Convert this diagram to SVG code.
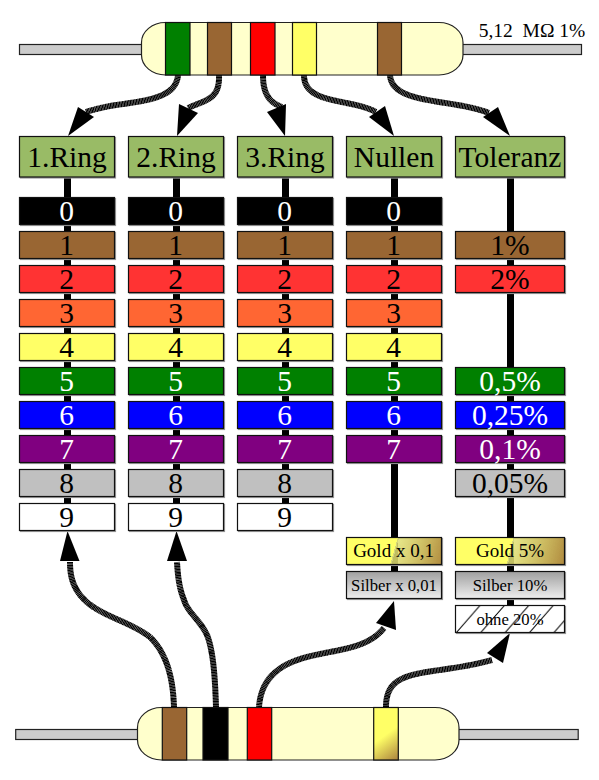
<svg xmlns="http://www.w3.org/2000/svg" width="599" height="780" viewBox="0 0 599 780">
<style>
text{font-family:"Liberation Serif",serif;text-anchor:middle;fill:#000;white-space:pre}
.h{font-size:29.5px}.n{font-size:29.5px}.s{font-size:16.700px}.g{font-size:19px}.w{fill:#fff}
.b{stroke:#111;stroke-width:1.2}
.box{stroke:#111;stroke-width:1.2;filter:drop-shadow(1.2px 1.2px 0 #999)}
.bar{fill:#000}
.wire{fill:#ccc;stroke:#222;stroke-width:1.2}
.body{fill:#ffc;stroke:#222;stroke-width:1.2}
.c{fill:none;stroke:#000;stroke-width:6;stroke-dasharray:1.3 .25}
.a{fill:#000}
</style>
<defs>
<linearGradient id="gold1" gradientUnits="userSpaceOnUse" x1="394" y1="551" x2="442" y2="565"><stop offset="0" stop-color="#ff6"/><stop offset="0" stop-color="#ff6" stop-opacity=".6"/><stop offset="1" stop-color="#b08a40"/></linearGradient>
<linearGradient id="gold3" gradientUnits="userSpaceOnUse" x1="510" y1="551" x2="564" y2="565"><stop offset="0" stop-color="#ff6"/><stop offset="0" stop-color="#ff6" stop-opacity=".6"/><stop offset="1" stop-color="#b08a40"/></linearGradient>
<linearGradient id="silver" x1="0" y1="0" x2="0" y2="1"><stop offset="0" stop-color="#a0a0a0"/><stop offset="1" stop-color="#eee"/></linearGradient>
<linearGradient id="gold2" gradientUnits="userSpaceOnUse" x1="376" y1="728" x2="398" y2="758"><stop offset="0.3" stop-color="#ff6"/><stop offset="1" stop-color="#b08a40"/></linearGradient>
<pattern id="hatch" width="24.400" height="28" patternUnits="userSpaceOnUse" patternTransform="translate(456 605)"><path d="M0 28L24.400 0" stroke="#000" stroke-width="1" fill="none"/></pattern>
</defs>
<g id="connectors">
<path class="c" d="M178 75C176 100 140 101 110 106C100 108 92 110 86 112"/>
<path class="c" d="M219 75C220 100 205 100 188 108"/>
<path class="c" d="M263 75C263 92 268 102 282 107"/>
<path class="c" d="M304 75C304 105 350 98 376 112"/>
<path class="c" d="M390 75C392 105 450 98 489 113"/>
<path class="c" d="M174 707C173 680 168 655 150 637C130 622 105 617 88 603C75 592 70 580 70 562"/>
<path class="c" d="M216 707C215 675 213 650 207 635C200 620 188 613 184 600C180 590 178 580 177 562"/>
<path class="c" d="M259 707C262 665 300 658 325 653C350 648 370 645 384 628"/>
<path class="c" d="M386 707C386 665 430 677 492 660"/>
<path class="a" d="M68 136L78 107L94 117Z"/>
<path class="a" d="M177 136L179 104L198 113Z"/>
<path class="a" d="M285 136L267 112L286 104Z"/>
<path class="a" d="M394 136L369 117L385 106Z"/>
<path class="a" d="M510 136L483 117L498 107Z"/>
<path class="a" d="M67.500 531L79.500 561L60 561Z"/>
<path class="a" d="M176.500 531L187 561L167 561Z"/>
<path class="a" d="M394 601L396 630L376 623Z"/>
<path class="a" d="M510 633L503 663L487 653Z"/>
</g>
<g id="resistor-top">
<rect class="wire" x="19.500" y="44.500" width="562" height="10"/>
<rect class="body" x="141.500" y="22.500" width="321.500" height="52.500" rx="24" ry="20"/>
<rect class="b" x="165.500" y="22.500" width="24.500" height="52.500" fill="#008000"/>
<rect class="b" x="207.500" y="22.500" width="24" height="52.500" fill="#963"/>
<rect class="b" x="250.500" y="22.500" width="24.500" height="52.500" fill="#f00"/>
<rect class="b" x="292.500" y="22.500" width="24" height="52.500" fill="#ff6"/>
<rect class="b" x="377.500" y="22.500" width="24" height="52.500" fill="#963"/>
<text x="532" y="37" style="font-size:19.500px">5,12  MΩ 1%</text>
</g>
<g id="resistor-bottom">
<rect class="wire" x="15.700" y="729.500" width="562.500" height="10"/>
<rect class="body" x="137.500" y="707.500" width="321.500" height="52.500" rx="24" ry="20"/>
<rect class="b" x="162.300" y="707.500" width="24.400" height="52.500" fill="#963"/>
<rect class="b" x="203" y="707.500" width="25" height="52.500" fill="#000"/>
<rect class="b" x="247.300" y="707.500" width="24.400" height="52.500" fill="#f00"/>
<rect class="b" x="373.700" y="707.500" width="24.600" height="52.500" fill="url(#gold2)"/>
</g>
<g id="col1">
<rect class="bar" x="64" y="177" width="7" height="326"/>
<rect class="box" x="19.500" y="136.500" width="95" height="40.500" fill="#9b6"/><text class="h" x="67" y="167">1.Ring</text>
<rect class="box" x="19.500" y="197.500" width="95" height="27" fill="#000"/><text class="n w" x="66.500" y="221">0</text>
<rect class="box" x="19.500" y="231.500" width="95" height="27" fill="#963"/><text class="n" x="66.500" y="255">1</text>
<rect class="box" x="19.500" y="265.500" width="95" height="27" fill="#f33"/><text class="n" x="66.500" y="289">2</text>
<rect class="box" x="19.500" y="299.500" width="95" height="27" fill="#f63"/><text class="n" x="66.500" y="323">3</text>
<rect class="box" x="19.500" y="333.500" width="95" height="27" fill="#ff6"/><text class="n" x="66.500" y="357">4</text>
<rect class="box" x="19.500" y="367.500" width="95" height="27" fill="#008000"/><text class="n w" x="66.500" y="391">5</text>
<rect class="box" x="19.500" y="401.500" width="95" height="27" fill="#00f"/><text class="n w" x="66.500" y="425">6</text>
<rect class="box" x="19.500" y="435.500" width="95" height="27" fill="#800080"/><text class="n w" x="66.500" y="459">7</text>
<rect class="box" x="19.500" y="469.500" width="95" height="27" fill="#c0c0c0"/><text class="n" x="66.500" y="493">8</text>
<rect class="box" x="19.500" y="503.500" width="95" height="27" fill="#fff"/><text class="n" x="66.500" y="527">9</text>
</g>
<g id="col2">
<rect class="bar" x="173" y="177" width="7" height="326"/>
<rect class="box" x="128.500" y="136.500" width="95" height="40.500" fill="#9b6"/><text class="h" x="176" y="167">2.Ring</text>
<rect class="box" x="128.500" y="197.500" width="95" height="27" fill="#000"/><text class="n w" x="175.500" y="221">0</text>
<rect class="box" x="128.500" y="231.500" width="95" height="27" fill="#963"/><text class="n" x="175.500" y="255">1</text>
<rect class="box" x="128.500" y="265.500" width="95" height="27" fill="#f33"/><text class="n" x="175.500" y="289">2</text>
<rect class="box" x="128.500" y="299.500" width="95" height="27" fill="#f63"/><text class="n" x="175.500" y="323">3</text>
<rect class="box" x="128.500" y="333.500" width="95" height="27" fill="#ff6"/><text class="n" x="175.500" y="357">4</text>
<rect class="box" x="128.500" y="367.500" width="95" height="27" fill="#008000"/><text class="n w" x="175.500" y="391">5</text>
<rect class="box" x="128.500" y="401.500" width="95" height="27" fill="#00f"/><text class="n w" x="175.500" y="425">6</text>
<rect class="box" x="128.500" y="435.500" width="95" height="27" fill="#800080"/><text class="n w" x="175.500" y="459">7</text>
<rect class="box" x="128.500" y="469.500" width="95" height="27" fill="#c0c0c0"/><text class="n" x="175.500" y="493">8</text>
<rect class="box" x="128.500" y="503.500" width="95" height="27" fill="#fff"/><text class="n" x="175.500" y="527">9</text>
</g>
<g id="col3">
<rect class="bar" x="282" y="177" width="7" height="326"/>
<rect class="box" x="237.500" y="136.500" width="95" height="40.500" fill="#9b6"/><text class="h" x="285" y="167">3.Ring</text>
<rect class="box" x="237.500" y="197.500" width="95" height="27" fill="#000"/><text class="n w" x="284.500" y="221">0</text>
<rect class="box" x="237.500" y="231.500" width="95" height="27" fill="#963"/><text class="n" x="284.500" y="255">1</text>
<rect class="box" x="237.500" y="265.500" width="95" height="27" fill="#f33"/><text class="n" x="284.500" y="289">2</text>
<rect class="box" x="237.500" y="299.500" width="95" height="27" fill="#f63"/><text class="n" x="284.500" y="323">3</text>
<rect class="box" x="237.500" y="333.500" width="95" height="27" fill="#ff6"/><text class="n" x="284.500" y="357">4</text>
<rect class="box" x="237.500" y="367.500" width="95" height="27" fill="#008000"/><text class="n w" x="284.500" y="391">5</text>
<rect class="box" x="237.500" y="401.500" width="95" height="27" fill="#00f"/><text class="n w" x="284.500" y="425">6</text>
<rect class="box" x="237.500" y="435.500" width="95" height="27" fill="#800080"/><text class="n w" x="284.500" y="459">7</text>
<rect class="box" x="237.500" y="469.500" width="95" height="27" fill="#c0c0c0"/><text class="n" x="284.500" y="493">8</text>
<rect class="box" x="237.500" y="503.500" width="95" height="27" fill="#fff"/><text class="n" x="284.500" y="527">9</text>
</g>
<g id="col4">
<rect class="bar" x="391" y="177" width="7" height="394"/>
<rect class="box" x="346.500" y="136.500" width="95" height="40.500" fill="#9b6"/><text class="h" x="394" y="167">Nullen</text>
<rect class="box" x="346.500" y="197.500" width="95" height="27" fill="#000"/><text class="n w" x="393.500" y="221">0</text>
<rect class="box" x="346.500" y="231.500" width="95" height="27" fill="#963"/><text class="n" x="393.500" y="255">1</text>
<rect class="box" x="346.500" y="265.500" width="95" height="27" fill="#f33"/><text class="n" x="393.500" y="289">2</text>
<rect class="box" x="346.500" y="299.500" width="95" height="27" fill="#f63"/><text class="n" x="393.500" y="323">3</text>
<rect class="box" x="346.500" y="333.500" width="95" height="27" fill="#ff6"/><text class="n" x="393.500" y="357">4</text>
<rect class="box" x="346.500" y="367.500" width="95" height="27" fill="#008000"/><text class="n w" x="393.500" y="391">5</text>
<rect class="box" x="346.500" y="401.500" width="95" height="27" fill="#00f"/><text class="n w" x="393.500" y="425">6</text>
<rect class="box" x="346.500" y="435.500" width="95" height="27" fill="#800080"/><text class="n w" x="393.500" y="459">7</text>
<rect class="box" x="346.500" y="537.500" width="95" height="27" fill="url(#gold1)"/><text class="g" x="393.500" y="557">Gold x 0,1</text>
<rect class="box" x="346.500" y="571.500" width="95" height="27" fill="url(#silver)"/><text class="s" x="394" y="591">Silber x 0,01</text>
</g>
<g id="col5">
<rect class="bar" x="507" y="177" width="7" height="428"/>
<rect class="box" x="455.500" y="136.500" width="109" height="40.500" fill="#9b6"/><text class="h" x="510" y="167">Toleranz</text>
<rect class="box" x="455.500" y="231.500" width="109" height="27" fill="#963"/><text class="n" x="510" y="255">1%</text>
<rect class="box" x="455.500" y="265.500" width="109" height="27" fill="#f33"/><text class="n" x="510" y="289">2%</text>
<rect class="box" x="455.500" y="367.500" width="109" height="27" fill="#008000"/><text class="n w" x="510" y="391">0,5%</text>
<rect class="box" x="455.500" y="401.500" width="109" height="27" fill="#00f"/><text class="n w" x="510" y="425">0,25%</text>
<rect class="box" x="455.500" y="435.500" width="109" height="27" fill="#800080"/><text class="n w" x="510" y="459">0,1%</text>
<rect class="box" x="455.500" y="469.500" width="109" height="27" fill="#c0c0c0"/><text class="n" x="510" y="493">0,05%</text>
<rect class="box" x="455.500" y="537.500" width="109" height="27" fill="url(#gold3)"/><text class="g" x="510" y="557">Gold 5%</text>
<rect class="box" x="455.500" y="571.500" width="109" height="27" fill="url(#silver)"/><text class="s" x="510" y="591">Silber 10%</text>
<rect class="box" x="455.500" y="605.500" width="109" height="27" fill="#fff"/><rect x="456" y="606" width="108" height="26" fill="url(#hatch)"/><text class="s" x="510" y="625">ohne 20%</text>
</g>
</svg>
